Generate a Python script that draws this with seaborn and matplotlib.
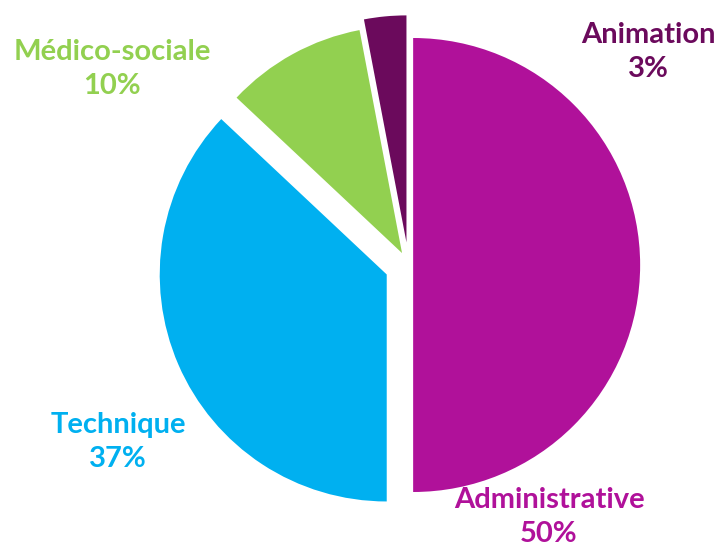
import numpy as np
import matplotlib.pyplot as plt
import seaborn as sns

# data
categories = ['Administrative', 'Technique', 'Médico-sociale', 'Animation']
shares = [50, 37, 10, 3]
colors = ['#B0119A', '#00B0F0', '#92D050', '#6B0A5C']
explode = [0.02, 0.105, 0.06, 0.10]

# label block centres in pixels (from top-left) of the 724x549 image
label_px = [(549, 517), (118, 442), (112, 69), (648, 52)]

sns.set_theme(style='white')
plt.rcParams['font.family'] = ['Lato', 'DejaVu Sans']

W, H, DPI = 724, 549, 100
R = 227.0            # pie radius in px
cx, cy = 408.6, 265  # pie centre in px (from top)

fig = plt.figure(figsize=(W / DPI, H / DPI), dpi=DPI)
ax = fig.add_axes([0, 0, 1, 1])

ax.pie(shares, colors=colors, explode=explode, startangle=90,
       counterclock=False, radius=1,
       wedgeprops=dict(linewidth=0))

ax.set_xlim(-cx / R, (W - cx) / R)
ax.set_ylim(-(H - cy) / R, cy / R)
ax.set_aspect('equal')
ax.axis('off')

for cat, val, col, (px, py) in zip(categories, shares, colors, label_px):
    x = (px - cx) / R
    y = (cy - py) / R
    ax.text(x, y, f'{cat}\n{val}%', color=col, fontsize=21, fontweight='bold',
            ha='center', va='center', linespacing=1.42)

fig.savefig('out.png', dpi=DPI)
